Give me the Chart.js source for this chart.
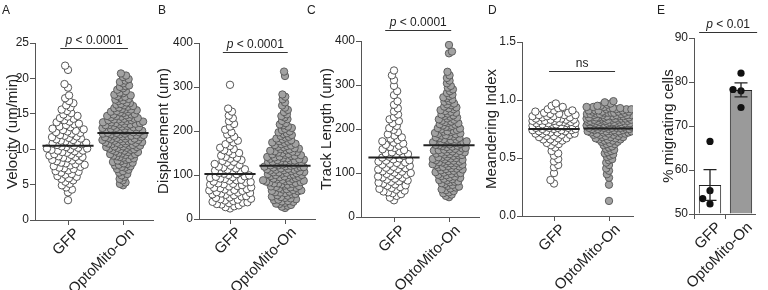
<!DOCTYPE html>
<html>
<head>
<meta charset="utf-8">
<script src="https://cdn.jsdelivr.net/npm/chart.js@4.4.1/dist/chart.umd.min.js"></script>
<style>
  body { margin: 0; background: #fff; }
  #fig { position: relative; width: 768px; height: 290px; overflow: hidden; }
  #fig canvas { position: absolute; top: 0; }
  .letter { position: absolute; top: 4px; font: 12px/12px "Liberation Sans", Arial, sans-serif; color: #222; }
</style>
</head>
<body>
<div id="fig"></div>
<script>
// Valeurs
const groups = ['GFP', 'OptoMito-On'];
const panelLetters = ['A', 'B', 'C', 'D', 'E'];
const yTitles = ['Velocity (um/min)', 'Displacement (um)', 'Track Length (um)', 'Meandering Index', '% migrating cells'];
const pLabels = ['p < 0.0001', 'p < 0.0001', 'p < 0.0001', 'ns', 'p < 0.01'];

const velocityGfp = [2.8, 3.9, 4.3, 4.6, 4.9, 5.1, 5.4, 5.6, 5.8, 5.9, 6.1, 6.2, 6.4, 6.5, 6.7, 6.8, 6.9,
  7.0, 7.2, 7.3, 7.4, 7.5, 7.6, 7.7, 7.8, 7.9, 8.0, 8.1, 8.3, 8.4, 8.4, 8.5, 8.7, 8.8, 8.9, 8.9,
  9.0, 9.1, 9.2, 9.3, 9.4, 9.5, 9.6, 9.7, 9.8, 9.8, 9.9, 10.0, 10.1, 10.1, 10.2, 10.3, 10.4, 10.5, 10.6, 10.7, 10.8, 10.8, 10.9,
  11.0, 11.1, 11.2, 11.3, 11.4, 11.5, 11.6, 11.7, 11.8, 11.9, 12.0, 12.2, 12.3, 12.4, 12.5, 12.6, 12.7, 12.8, 12.9,
  13.1, 13.2, 13.4, 13.5, 13.6, 13.8, 13.9, 14.1, 14.3, 14.4, 14.6, 14.7, 14.9, 15.1, 15.4, 15.6, 15.9,
  16.2, 16.5, 16.8, 17.2, 17.6, 18.7, 19.2, 21.2, 21.8];
const velocityOpto = [4.9, 5.1, 5.3, 5.6, 5.8, 6.1, 6.3, 6.5, 6.7, 6.9, 7.1, 7.2, 7.4, 7.5, 7.6, 7.7, 7.8, 7.9,
  8.0, 8.1, 8.2, 8.3, 8.4, 8.5, 8.6, 8.7, 8.8, 8.9, 9.0, 9.1, 9.1, 9.2, 9.3, 9.3, 9.4, 9.5, 9.6, 9.6, 9.7, 9.8, 9.9, 9.9,
  10.0, 10.0, 10.1, 10.2, 10.2, 10.3, 10.4, 10.4, 10.5, 10.5, 10.6, 10.7, 10.7, 10.8, 10.8, 10.9, 10.9, 10.3,
  11.0, 11.0, 11.1, 11.1, 11.2, 11.2, 11.3, 11.4, 11.4, 11.5, 11.5, 11.6, 11.6, 11.7, 11.7, 11.8, 11.8, 11.9, 11.9, 11.3,
  12.0, 12.0, 12.1, 12.1, 12.2, 12.2, 12.3, 12.3, 12.4, 12.5, 12.5, 12.6, 12.6, 12.7, 12.7, 12.8, 12.8, 12.9, 12.9, 12.4,
  13.0, 13.0, 13.1, 13.1, 13.2, 13.3, 13.3, 13.4, 13.4, 13.5, 13.6, 13.6, 13.7, 13.7, 13.8, 13.8, 13.9, 13.9, 13.5,
  14.0, 14.1, 14.1, 14.2, 14.3, 14.3, 14.4, 14.5, 14.5, 14.6, 14.7, 14.7, 14.8, 14.9, 14.9, 14.2,
  15.0, 15.1, 15.2, 15.3, 15.4, 15.5, 15.6, 15.7, 15.8, 15.9, 15.3, 15.6, 16.0, 16.1, 16.3, 16.4, 16.5, 16.6, 16.8, 16.9, 16.2,
  17.0, 17.1, 17.3, 17.4, 17.6, 17.7, 17.9, 17.5, 18.0, 18.2, 18.4, 18.6, 18.8, 18.9, 19.0, 19.3, 19.5, 19.7, 19.9, 20.2, 20.4, 20.7];
const velocityMeans = [10.5, 12.3];

const displacementGfp = [24, 27, 29, 31, 33, 34, 36, 37, 38, 39, 41, 42, 44, 45, 46, 48, 49, 51, 52, 54, 55, 56, 58, 59,
  60, 61, 62, 64, 65, 66, 67, 68, 70, 71, 72, 74, 75, 77, 78, 79, 80, 81, 83, 84, 85, 87, 88, 89, 91, 92, 93, 95, 96, 97, 99,
  100, 102, 103, 105, 107, 108, 110, 112, 113, 115, 117, 119, 121, 123, 125, 128, 130, 132, 134, 137, 139,
  141, 144, 147, 150, 153, 156, 159, 162, 166, 170, 174, 178, 182, 187, 192, 197, 203, 210, 216, 222, 229, 235, 244, 251, 305];
const displacementOpto = [25, 28, 30, 32, 34, 35, 37, 39, 40, 41, 43, 44, 45, 47, 48, 50, 51, 53, 54, 56, 57, 59,
  60, 61, 62, 63, 64, 65, 66, 67, 68, 70, 71, 72, 73, 74, 75, 76, 78, 79,
  80, 81, 81, 82, 83, 84, 85, 86, 86, 87, 88, 89, 90, 91, 92, 93, 94, 95, 96, 97, 98, 99,
  100, 100, 101, 102, 103, 104, 105, 106, 106, 107, 108, 109, 110, 111, 112, 112, 113, 114, 115, 116, 117, 118, 118, 119,
  120, 121, 122, 122, 123, 124, 125, 126, 127, 128, 129, 130, 131, 132, 133, 133, 134, 135, 136, 137, 138, 139,
  140, 141, 142, 143, 144, 145, 146, 147, 148, 150, 151, 152, 153, 154, 155, 156, 158, 159,
  160, 161, 163, 164, 166, 167, 168, 170, 171, 173, 174, 176, 177, 179, 181, 183, 185, 187, 189, 191, 193, 195, 197, 199,
  202, 205, 207, 210, 213, 215, 218, 223, 227, 231, 234, 238, 243, 248, 253, 258, 265, 272, 278, 283, 325, 335];
const displacementMeans = [102, 121];

const trackGfp = [38, 44, 48, 52, 54, 56, 58, 60, 62, 64, 66, 68, 71, 72, 74, 76, 78, 80, 81, 83, 85, 87, 89,
  90, 92, 93, 95, 96, 98, 100, 101, 103, 104, 106, 108, 109, 111, 112, 114, 116, 118, 119, 121, 123, 124, 126, 128, 129,
  131, 133, 135, 137, 139, 141, 143, 145, 147, 149, 152, 154, 157, 159, 162, 164, 167, 169, 172, 175, 178, 181, 185, 188,
  193, 198, 202, 207, 213, 218, 222, 227, 233, 240, 247, 255, 263, 277, 286, 298, 311, 322, 333];
const trackOpto = [45, 48, 51, 54, 56, 59, 61, 63, 65, 67, 69, 71, 73, 75, 77, 79,
  80, 81, 83, 84, 86, 87, 89, 90, 92, 93, 95, 96, 98, 99,
  100, 101, 102, 104, 105, 106, 108, 109, 110, 111, 113, 114, 115, 116, 117, 118, 119,
  120, 121, 122, 123, 124, 125, 126, 127, 128, 129, 130, 131, 132, 133, 134, 135, 136, 137, 139,
  140, 141, 142, 143, 144, 145, 146, 147, 148, 149, 150, 151, 152, 153, 154, 155, 156, 157, 159,
  160, 161, 162, 163, 164, 165, 166, 167, 168, 169, 170, 171, 172, 174, 175, 176, 177, 179,
  180, 181, 183, 184, 185, 186, 188, 189, 190, 191, 193, 194, 195, 196, 198, 199,
  201, 202, 204, 205, 207, 208, 210, 211, 213, 214, 216, 217, 219, 221, 222, 224, 226, 228, 230, 231, 233, 235, 237, 239,
  241, 243, 245, 247, 249, 251, 254, 256, 258, 262, 264, 267, 270, 272, 275, 278, 282, 286, 290, 294, 298,
  304, 310, 316, 322, 330, 372, 376, 391];
const trackMeans = [135, 163];

const meanderGfp = [0.28, 0.31, 0.37, 0.42, 0.44, 0.47, 0.49, 0.52, 0.54, 0.56, 0.59, 0.61, 0.62, 0.63, 0.64,
  0.65, 0.66, 0.67, 0.67, 0.68, 0.69, 0.69, 0.66, 0.70, 0.70, 0.71, 0.71, 0.72, 0.72, 0.73, 0.73, 0.73, 0.74, 0.74, 0.74, 0.71,
  0.75, 0.75, 0.76, 0.76, 0.76, 0.77, 0.77, 0.77, 0.78, 0.78, 0.78, 0.79, 0.79, 0.79, 0.75, 0.76,
  0.80, 0.80, 0.80, 0.81, 0.81, 0.81, 0.82, 0.82, 0.82, 0.83, 0.83, 0.83, 0.84, 0.84, 0.84, 0.80, 0.82,
  0.85, 0.85, 0.86, 0.86, 0.87, 0.87, 0.88, 0.88, 0.89, 0.89, 0.86, 0.87, 0.90, 0.91, 0.92, 0.93, 0.94, 0.91, 0.95, 0.97];
const meanderOpto = [0.13, 0.27, 0.33, 0.36, 0.39, 0.41, 0.44, 0.46, 0.48, 0.49, 0.51, 0.52, 0.53, 0.54,
  0.55, 0.56, 0.57, 0.58, 0.59, 0.60, 0.61, 0.62, 0.62, 0.63, 0.64, 0.64,
  0.65, 0.65, 0.66, 0.66, 0.67, 0.67, 0.68, 0.68, 0.69, 0.69, 0.66, 0.68,
  0.70, 0.70, 0.71, 0.71, 0.71, 0.72, 0.72, 0.72, 0.73, 0.73, 0.73, 0.73, 0.74, 0.74, 0.74, 0.74, 0.70, 0.71, 0.72, 0.73,
  0.75, 0.75, 0.75, 0.75, 0.75, 0.76, 0.76, 0.76, 0.76, 0.76, 0.77, 0.77, 0.77, 0.77, 0.77,
  0.78, 0.78, 0.78, 0.78, 0.78, 0.78, 0.79, 0.79, 0.79, 0.79, 0.79,
  0.80, 0.80, 0.80, 0.80, 0.80, 0.80, 0.81, 0.81, 0.81, 0.81, 0.81, 0.81, 0.82, 0.82, 0.82, 0.82, 0.82, 0.82,
  0.83, 0.83, 0.83, 0.83, 0.83, 0.84, 0.84, 0.84, 0.84, 0.84,
  0.85, 0.85, 0.85, 0.85, 0.85, 0.85, 0.86, 0.86, 0.86, 0.86, 0.86, 0.87, 0.87, 0.87, 0.87, 0.87,
  0.88, 0.88, 0.88, 0.88, 0.88, 0.89, 0.89, 0.89, 0.89, 0.89,
  0.90, 0.90, 0.90, 0.90, 0.91, 0.91, 0.91, 0.91, 0.92, 0.92, 0.92, 0.92, 0.93, 0.93, 0.93, 0.94, 0.94, 0.94,
  0.95, 0.95, 0.96, 0.97, 0.98, 0.99];
const meanderMeans = [0.75, 0.755];

const migratingGfp = [66.5, 55.3, 53.5, 52.3];
const migratingOpto = [82.0, 78.0, 78.3, 74.2];
const migratingMeans = [56.6, 78.2];
const migratingSem = [3.5, 1.6];

// Position des barres de significativité (unités des axes)
const sigLevels = [24.3, 379, 425, 1.25, 91.4];
const sigSpans = [[-0.14, 1.09], [-0.13, 1.05], [-0.16, 1.04], [-0.09, 1.11], [-0.35, 1.52]];

// Mise en page en pixels
const panels = [
  { left: 0, axisX: 35, axisEnd: 153, cat0: 68, step: 55, top: 43, bottom: 220, min: 0, max: 25, stepSize: 5 },
  { left: 151, axisX: 199, axisEnd: 315, cat0: 230, step: 55, top: 43, bottom: 219, min: 0, max: 400, stepSize: 100 },
  { left: 314, axisX: 361, axisEnd: 479, cat0: 394, step: 55, top: 41, bottom: 217, min: 0, max: 400, stepSize: 100 },
  { left: 479, axisX: 522, axisEnd: 633, cat0: 554, step: 55, top: 42, bottom: 216, min: 0, max: 1.5, stepSize: 0.5 },
  { left: 656, axisX: 694, axisEnd: 755, cat0: 710, step: 31, top: 38, bottom: 214, min: 50, max: 90, stepSize: 10 }
];
const letterX = [2, 158, 307, 488, 657];

const FONT = '"Liberation Sans", Arial, sans-serif';
const fig = document.getElementById('fig');

/**
 * Essaim glouton : chaque point prend la place libre la plus proche du centre
 * (écart opt.sep), puis l'essaim est resserré horizontalement par opt.squeeze.
 */
function swarm(values, center, pxX, pxY, opt) {
  const sorted = values.slice().sort((a, b) => a - b);
  const placed = [];
  const s2 = opt.sep * opt.sep;
  const squeeze = opt.squeeze || 1;
  return sorted.map((v, idx) => {
    const py = v * pxY;
    const near = placed.filter(q => Math.abs(q.py - py) < opt.sep);
    const cands = [0];
    near.forEach(q => {
      const d = Math.sqrt(s2 - (q.py - py) ** 2);
      cands.push(q.dx + d, q.dx - d);
    });
    const sign = idx % 2 ? 1 : -1;
    cands.sort((a, b) => Math.abs(a) - Math.abs(b) || sign * (a - b));
    let dx = cands.find(c => Math.abs(c) <= opt.half &&
      near.every(q => (q.dx - c) ** 2 + (q.py - py) ** 2 >= s2 - 1e-6));
    if (dx === undefined) {
      let best = -1;
      for (let c = -opt.half; c <= opt.half; c += 0.5) {
        const m = Math.min(...near.map(q => (q.dx - c) ** 2 + (q.py - py) ** 2));
        if (m > best) { best = m; dx = c; }
      }
    }
    placed.push({ dx, py });
    return { x: center + dx * squeeze / pxX, y: v };
  });
}

const sigPlugin = {
  id: 'sig',
  afterDraw(chart, args, o) {
    const { ctx, scales: { x, y } } = chart;
    const py = Math.round(y.getPixelForValue(o.level)) + 0.5;
    const x0 = x.getPixelForValue(o.from);
    const x1 = x.getPixelForValue(o.to);
    ctx.save();
    ctx.strokeStyle = '#333';
    ctx.lineWidth = 1.2;
    ctx.beginPath();
    ctx.moveTo(x0, py);
    ctx.lineTo(x1, py);
    ctx.stroke();
    ctx.fillStyle = '#222';
    const cx = (x0 + x1) / 2;
    if (o.text.startsWith('p ')) {
      const rest = o.text.slice(1);
      ctx.font = 'italic 12px ' + FONT;
      const w1 = ctx.measureText('p').width;
      ctx.font = '12px ' + FONT;
      const w2 = ctx.measureText(rest).width;
      const sx = cx - (w1 + w2) / 2;
      ctx.font = 'italic 12px ' + FONT;
      ctx.fillText('p', sx, py - 5);
      ctx.font = '12px ' + FONT;
      ctx.fillText(rest, sx + w1, py - 5);
    } else {
      ctx.textAlign = 'center';
      ctx.font = '12px ' + FONT;
      ctx.fillText(o.text, cx, py - 5);
    }
    ctx.restore();
  }
};

// Libellés de l'axe X inclinés à 45°
const xLabelPlugin = {
  id: 'xlabels',
  afterDraw(chart) {
    const { ctx, scales: { x } } = chart;
    ctx.save();
    ctx.font = '15px ' + FONT;
    ctx.fillStyle = '#222';
    ctx.textAlign = 'right';
    ctx.textBaseline = 'alphabetic';
    groups.forEach((g, k) => {
      ctx.save();
      ctx.translate(x.getPixelForValue(k) + 12, x.top + 14);
      ctx.rotate(-Math.PI / 4);
      ctx.fillText(g, 0, 0);
      ctx.restore();
    });
    ctx.restore();
  }
};

const errorPlugin = {
  id: 'errors',
  afterDatasetsDraw(chart) {
    const { ctx, scales: { x, y } } = chart;
    ctx.save();
    ctx.strokeStyle = '#222';
    ctx.lineWidth = 1.3;
    migratingMeans.forEach((m, i) => {
      const px = x.getPixelForValue(i);
      const lo = y.getPixelForValue(m - migratingSem[i]);
      const hi = y.getPixelForValue(m + migratingSem[i]);
      ctx.beginPath();
      ctx.moveTo(px, lo); ctx.lineTo(px, hi);
      ctx.moveTo(px - 6.5, hi); ctx.lineTo(px + 6.5, hi);
      ctx.moveTo(px - 6.5, lo); ctx.lineTo(px + 6.5, lo);
      ctx.stroke();
    });
    ctx.restore();
  }
};

function makeCanvas(i) {
  const p = panels[i];
  const c = document.createElement('canvas');
  c.width = p.axisEnd - p.left + 14;
  c.height = 290;
  c.style.left = p.left + 'px';
  fig.appendChild(c);
  const l = document.createElement('div');
  l.className = 'letter';
  l.style.left = letterX[i] + 'px';
  l.textContent = panelLetters[i];
  fig.appendChild(l);
  return c;
}

function baseOptions(i, fmt) {
  const p = panels[i];
  return {
    responsive: false,
    animation: false,
    events: [],
    layout: { padding: { left: 0, top: p.top, right: 14, bottom: 0 } },
    plugins: {
      legend: { display: false },
      tooltip: { enabled: false },
      sig: { level: sigLevels[i], from: sigSpans[i][0], to: sigSpans[i][1], text: pLabels[i] }
    },
    scales: {
      x: {
        type: 'linear',
        offset: false,
        min: (p.axisX - p.cat0) / p.step,
        max: (p.axisEnd - p.cat0) / p.step,
        afterBuildTicks: s => { s.ticks = groups.map((g, k) => ({ value: k })); },
        afterFit: s => { s.height = 290 - p.bottom; },
        ticks: { display: false },
        grid: { drawOnChartArea: false, tickLength: 5, color: '#555' },
        border: { color: '#555' }
      },
      y: {
        min: p.min,
        max: p.max,
        afterFit: s => { s.width = p.axisX - p.left; },
        ticks: { stepSize: p.stepSize, padding: 1, color: '#222', font: { family: FONT, size: 12 }, callback: fmt },
        grid: { drawOnChartArea: false, tickLength: 5, color: '#555' },
        border: { color: '#555' },
        title: { display: true, text: yTitles[i], color: '#222', font: { family: FONT, size: 15 }, padding: { top: 4, bottom: 4 } }
      }
    }
  };
}

function swarmPanel(i, gfp, opto, means, fmt) {
  const p = panels[i];
  const pxY = (p.bottom - p.top) / (p.max - p.min);
  const meanLine = k => ({
    data: [{ x: k - 0.465, y: means[k] }, { x: k + 0.465, y: means[k] }],
    showLine: true, borderColor: '#222', borderWidth: 2, pointRadius: 0, order: 0
  });
  new Chart(makeCanvas(i), {
    type: 'scatter',
    data: {
      datasets: [
        { data: swarm(gfp, 0, p.step, pxY, { sep: 5.4, half: 25, squeeze: 0.86 }),
          pointRadius: 3.7, borderWidth: 0.9, backgroundColor: '#fff', borderColor: '#444', order: 1 },
        { data: swarm(opto, 1, p.step, pxY, { sep: 4.6, half: 32, squeeze: 0.7 }),
          pointRadius: 3.7, borderWidth: 0.9, backgroundColor: '#a2a2a2', borderColor: '#555', order: 1 },
        meanLine(0),
        meanLine(1)
      ]
    },
    options: baseOptions(i, fmt),
    plugins: [sigPlugin, xLabelPlugin]
  });
}

swarmPanel(0, velocityGfp, velocityOpto, velocityMeans, v => v);
swarmPanel(1, displacementGfp, displacementOpto, displacementMeans, v => v);
swarmPanel(2, trackGfp, trackOpto, trackMeans, v => v);
swarmPanel(3, meanderGfp, meanderOpto, meanderMeans, v => v.toFixed(1));

// Panneau E : barres + points individuels + SEM
(function () {
  const p = panels[4];
  const pxY = (p.bottom - p.top) / (p.max - p.min);
  const opt = { sep: 9, half: 8 };
  new Chart(makeCanvas(4), {
    type: 'scatter',
    data: {
      datasets: [
        { type: 'bar', data: migratingMeans.map((m, k) => ({ x: k, y: m })), base: 50,
          backgroundColor: ['#fff', '#9a9a9a'], borderColor: '#222', borderWidth: 1, borderSkipped: 'start', order: 2 },
        { data: swarm(migratingGfp, 0, p.step, pxY, opt), pointRadius: 3.6, backgroundColor: '#111', borderWidth: 0, order: 1 },
        { data: swarm(migratingOpto, 1, p.step, pxY, opt), pointRadius: 3.6, backgroundColor: '#111', borderWidth: 0, order: 1 }
      ]
    },
    options: baseOptions(4, v => v),
    plugins: [sigPlugin, errorPlugin, xLabelPlugin]
  });
})();
</script>
</body>
</html>
